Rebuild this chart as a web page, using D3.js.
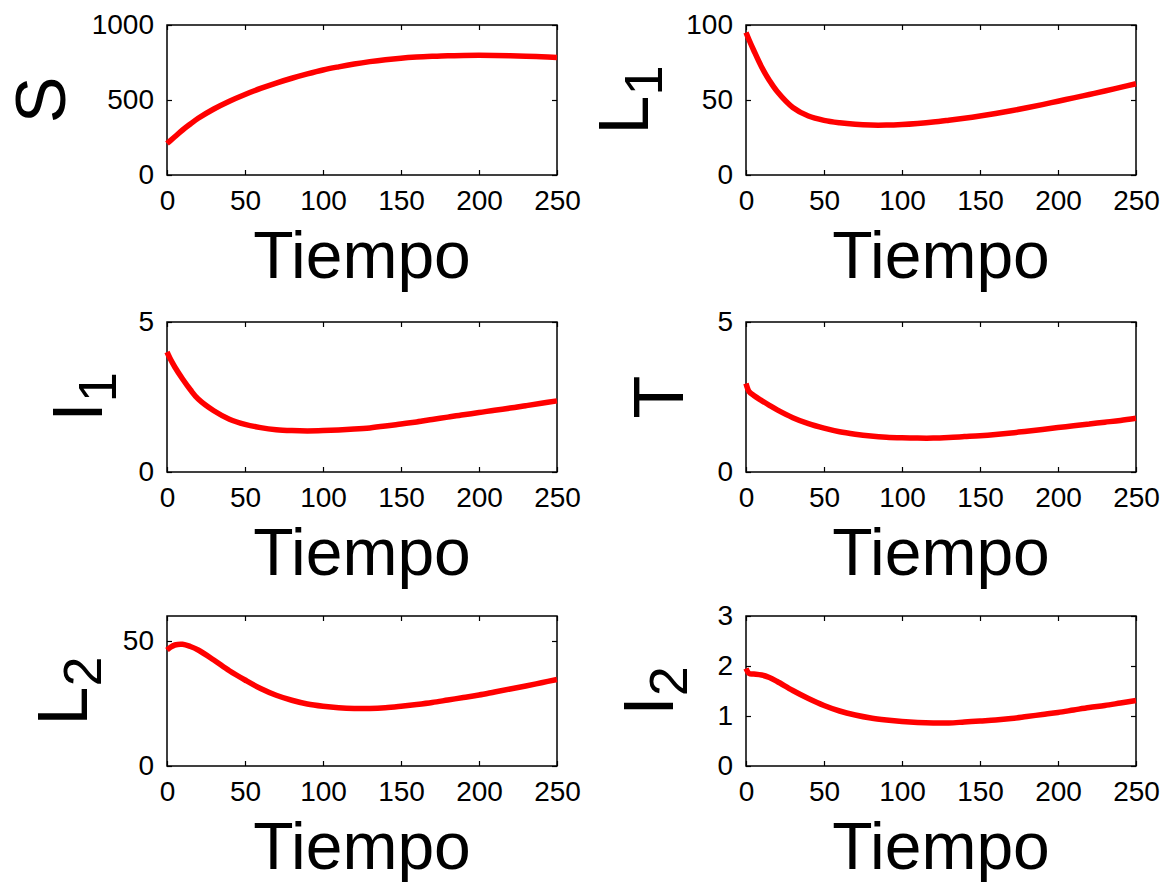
<!DOCTYPE html>
<html>
<head>
<meta charset="utf-8">
<script src="https://cdn.jsdelivr.net/npm/d3@7"></script>
<style>
  body { margin: 0; background: #fff; }
  text { font-family: "Liberation Sans", Arial, sans-serif; fill: #000; }
</style>
</head>
<body>
<script>
// shared time axis
const time = [0, 2, 5, 10, 15, 20, 30, 40, 50, 60, 70, 80, 90, 100, 110, 120, 130, 140, 150, 160, 170, 180, 190, 200, 210, 220, 230, 240, 250];
const xTicks = [0, 50, 100, 150, 200, 250];

// series values
const sVals  = [210, 228, 255, 300, 340, 378, 440, 492, 537, 577, 613, 645, 674, 700, 721, 740, 756, 769, 779, 786, 791, 795, 797, 798, 797, 795, 792, 788, 783];
const l1Vals = [95, 90, 83, 72, 63, 55.6, 45, 39.3, 36.4, 34.8, 33.8, 33.3, 33.3, 33.7, 34.4, 35.3, 36.5, 37.8, 39.3, 41, 42.8, 44.8, 46.9, 49.2, 51.4, 53.7, 56, 58.4, 60.8];
const i1Vals = [4.0, 3.78, 3.5, 3.1, 2.74, 2.43, 2.04, 1.76, 1.59, 1.48, 1.41, 1.38, 1.37, 1.38, 1.40, 1.43, 1.47, 1.53, 1.60, 1.67, 1.75, 1.83, 1.91, 1.98, 2.06, 2.13, 2.21, 2.29, 2.37];
const tVals  = [2.95, 2.68, 2.55, 2.38, 2.22, 2.07, 1.81, 1.61, 1.46, 1.34, 1.26, 1.2, 1.16, 1.14, 1.13, 1.13, 1.15, 1.18, 1.21, 1.25, 1.3, 1.36, 1.42, 1.48, 1.54, 1.6, 1.66, 1.72, 1.79];
const l2Vals = [46.4, 47.4, 48.4, 48.7, 47.8, 46.4, 42.4, 38.1, 34.4, 31.0, 28.3, 26.3, 24.8, 23.9, 23.3, 23.0, 23.0, 23.3, 23.9, 24.6, 25.4, 26.4, 27.4, 28.4, 29.6, 30.8, 32.0, 33.3, 34.6];
const i2Vals = [1.95, 1.85, 1.84, 1.82, 1.77, 1.69, 1.51, 1.35, 1.21, 1.10, 1.02, 0.96, 0.92, 0.89, 0.87, 0.86, 0.86, 0.88, 0.90, 0.92, 0.95, 0.99, 1.03, 1.07, 1.12, 1.17, 1.21, 1.26, 1.31];

// y ranges and tick labels per panel
const yDomains = [[0, 1000], [0, 100], [0, 5], [0, 5], [0, 60], [0, 3]];
const yTicks = [[0, 500, 1000], [0, 50, 100], [0, 5], [0, 5], [0, 50], [0, 1, 2, 3]];
const labels = [["S", ""], ["L", "1"], ["I", "1"], ["T", ""], ["L", "2"], ["I", "2"]];
const series = [sVals, l1Vals, i1Vals, tVals, l2Vals, i2Vals];
const xLabel = "Tiempo";

// layout
const colX = [167, 746];
const rowY = [25, 322, 616];
const W = 390, H = 150;
const labelOffset = [102, 98, 65, 63, 80, 73]; // ylabel baseline distance left of axis

const svg = d3.select("body").append("svg")
  .attr("width", 1164)
  .attr("height", 882);

const fmt = d3.format("d");

series.forEach((vals, i) => {
  const g = svg.append("g")
    .attr("transform", `translate(${colX[i % 2]},${rowY[Math.floor(i / 2)]})`);

  const x = d3.scaleLinear().domain([0, 250]).range([0, W]);
  const y = d3.scaleLinear().domain(yDomains[i]).range([H, 0]);

  // inward ticks on all four sides
  const bottom = g.append("g")
    .attr("transform", `translate(0,${H})`)
    .call(d3.axisBottom(x).tickValues(xTicks).tickFormat(fmt).tickSize(-5).tickPadding(15));
  g.append("g")
    .call(d3.axisTop(x).tickValues(xTicks).tickSize(-5).tickFormat(""));
  const left = g.append("g")
    .call(d3.axisLeft(y).tickValues(yTicks[i]).tickFormat(fmt).tickSize(-5).tickPadding(13));
  g.append("g")
    .attr("transform", `translate(${W},0)`)
    .call(d3.axisRight(y).tickValues(yTicks[i]).tickSize(-5).tickFormat(""));

  g.selectAll(".domain").remove();
  g.selectAll(".tick line").attr("stroke", "#000").attr("stroke-width", 1.2);
  bottom.selectAll("text").attr("font-size", 28).attr("font-family", null);
  left.selectAll("text").attr("font-size", 28).attr("font-family", null);

  g.append("rect")
    .attr("width", W)
    .attr("height", H)
    .attr("fill", "none")
    .attr("stroke", "#000")
    .attr("stroke-width", 1.5);

  const line = d3.line()
    .x((d, j) => x(time[j]))
    .y(d => y(d))
    .curve(d3.curveCatmullRom.alpha(0.5));

  g.append("path")
    .datum(vals)
    .attr("d", line)
    .attr("fill", "none")
    .attr("stroke", "#ff0000")
    .attr("stroke-width", 5.5)
    .attr("stroke-linejoin", "round");

  // x label
  g.append("text")
    .attr("x", W / 2)
    .attr("y", H + 103)
    .attr("text-anchor", "middle")
    .attr("font-size", 66)
    .text(xLabel);

  // y label with optional subscript
  const yl = g.append("text")
    .attr("transform", `translate(${-labelOffset[i]},${H / 2}) rotate(-90)`)
    .attr("text-anchor", "middle")
    .attr("font-size", 70);
  yl.append("tspan").text(labels[i][0]);
  if (labels[i][1]) {
    yl.append("tspan")
      .attr("font-size", 54)
      .attr("dy", 14)
      .text(labels[i][1]);
  }
});
</script>
</body>
</html>
